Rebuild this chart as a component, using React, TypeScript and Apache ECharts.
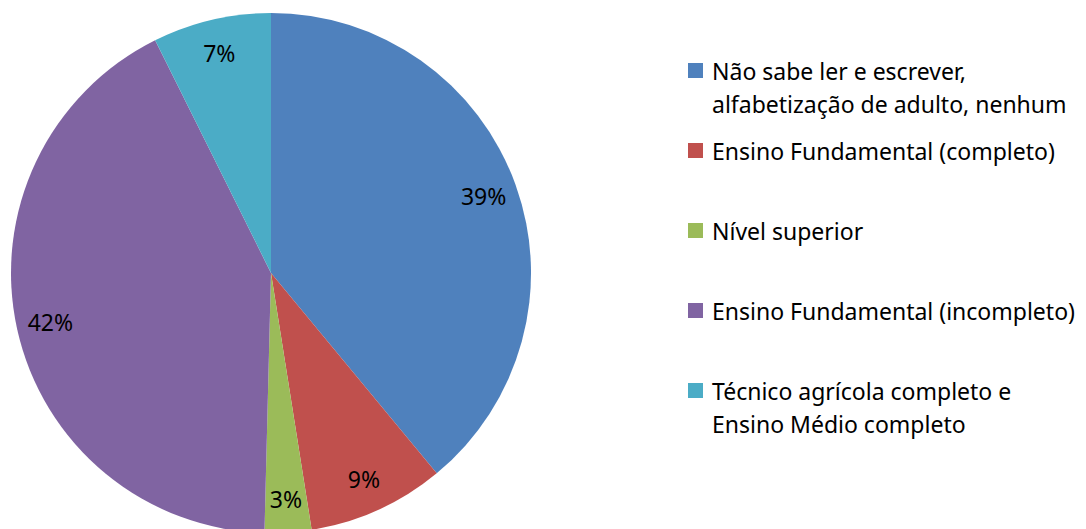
import React, { useEffect, useRef } from "react";
import * as echarts from "echarts";

const categories = [
  "Não sabe ler e escrever, alfabetização de adulto, nenhum",
  "Ensino Fundamental (completo)",
  "Nível superior",
  "Ensino Fundamental (incompleto)",
  "Técnico agrícola completo e Ensino Médio completo",
];
const legendLines = [
  ["Não sabe ler e escrever,", "alfabetização de adulto, nenhum"],
  ["Ensino Fundamental (completo)"],
  ["Nível superior"],
  ["Ensino Fundamental (incompleto)"],
  ["Técnico agrícola completo e", "Ensino Médio completo"],
];
const values = [39.0, 8.5, 2.9, 42.25, 7.35];
const colors = ["#4F81BD", "#C0504D", "#9BBB59", "#8064A2", "#4BACC6"];

const FONT = "Noto Sans";
const FS = 23;

export default function App() {
  const ref = useRef<HTMLDivElement>(null);
  useEffect(() => {
    document.body.style.margin = "0";
    const chart = echarts.init(ref.current!, null, { renderer: "svg" });
    const data = categories.map((name, i) => ({
      name,
      value: values[i],
      itemStyle: { color: colors[i] },
    }));
    const labelData = categories.map((name, i) => ({
      name,
      value: values[i],
    }));
    chart.setOption({
      animation: false,
      backgroundColor: "#ffffff",
      legend: {
        orient: "vertical",
        left: 688,
        top: 26,
        padding: 0,
        itemWidth: 15,
        itemHeight: 15,
        itemGap: -9,
        icon: "rect",
        selectedMode: false,
        data: categories,
        formatter: (name: string) => {
          const lines = legendLines[categories.indexOf(name)];
          const second = lines.length > 1 ? lines[1] : " ";
          return `{e| }\n{t|${lines[0]}}\n{e|${second}}`;
        },
        textStyle: {
          fontFamily: FONT,
          fontSize: FS,
          color: "#000",
          lineHeight: 10,
          padding: [0, 0, 0, 4],
          rich: {
            e: { fontFamily: FONT, fontSize: FS, color: "#000", lineHeight: 10 },
            t: { fontFamily: FONT, fontSize: FS, color: "#000", lineHeight: 56 },
          },
        },
      },
      series: [
        {
          type: "pie",
          center: [271, 273],
          radius: 260,
          startAngle: 90,
          clockwise: true,
          silent: true,
          label: { show: false },
          labelLine: { show: false },
          emphasis: { disabled: true },
          data,
        },
        {
          type: "pie",
          center: [271, 273],
          radius: [186, 260],
          startAngle: 90,
          clockwise: true,
          silent: true,
          percentPrecision: 0,
          itemStyle: { color: "transparent" },
          emphasis: { disabled: true },
          labelLine: { show: false },
          label: {
            show: true,
            position: "inside",
            formatter: "{d}%",
            fontFamily: FONT,
            fontSize: FS,
            color: "#000",
          },
          data: labelData,
        },
      ],
    });
    return () => chart.dispose();
  }, []);
  return <div ref={ref} style={{ width: 1086, height: 529 }} />;
}
